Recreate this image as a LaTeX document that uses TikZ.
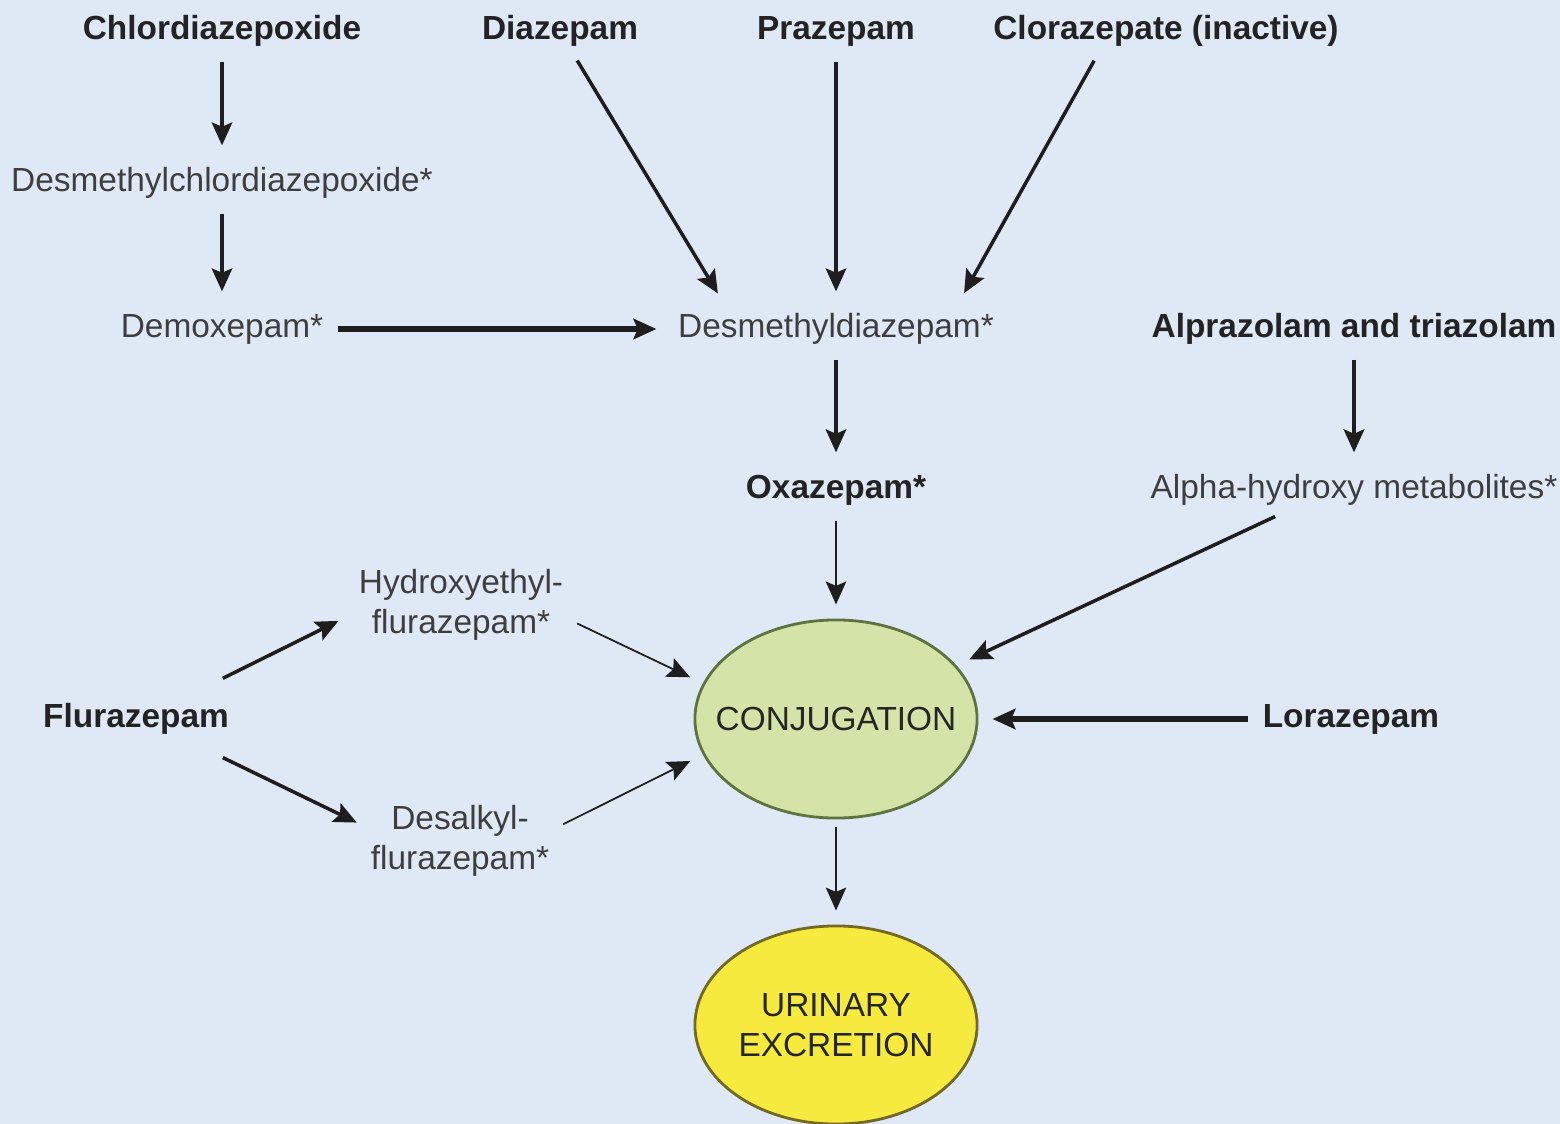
\documentclass[tikz,border=0pt]{standalone}
\usepackage{fontspec}
\setmainfont{Liberation Sans}
\usetikzlibrary{arrows.meta,shapes.geometric}
\definecolor{bgblue}{RGB}{222,233,245}
\definecolor{drugtxt}{RGB}{35,35,35}
\definecolor{metabtxt}{RGB}{62,62,62}
\definecolor{arrowcol}{RGB}{30,30,30}
\definecolor{conjfill}{RGB}{212,228,168}
\definecolor{conjedge}{RGB}{95,115,65}
\definecolor{urinfill}{RGB}{247,234,62}
\definecolor{urinedge}{RGB}{115,105,35}

\begin{document}
\begin{tikzpicture}[
  x=0.01cm, y=-0.01cm,
  every node/.style={font=\fontsize{9.5}{11.2}\selectfont},
  %% Node styles
  drug/.style={
    text=drugtxt, font=\fontsize{9.5}{11.2}\selectfont\bfseries,
    inner sep=2pt, text height=7pt, text depth=2pt,
  },
  metab/.style={
    text=metabtxt, inner sep=2pt, text height=7pt, text depth=2pt,
  },
  metabtwo/.style={text=metabtxt, inner sep=2pt, align=center},
  stage/.style={
    ellipse, line width=0.8pt, inner sep=0pt, text=black!85,
    minimum width=2.82cm, minimum height=1.98cm,
  },
  %% Arrow styles
  arr/.style={
    draw=arrowcol, line width=1pt,
    -{Stealth[length=6.5pt,width=5.8pt,inset=1.2pt]},
    shorten <=2pt, shorten >=4pt,
  },
  thickarr/.style={arr, line width=1.8pt},
  thinarr/.style={arr, line width=0.5pt},
]

%% background and page size
\fill[bgblue] (0,0) rectangle (1560,1124);
\useasboundingbox (0,0) rectangle (1560,1124);

%% =============================================================
%%  Parent drugs (top row)
%% =============================================================
\node[drug] (chlor)  at (222,31)  {Chlordiazepoxide};
\node[drug] (diaz)   at (560,31)  {Diazepam};
\node[drug] (praz)   at (836,31)  {Prazepam};
\node[drug] (cloraz) at (1166,31) {Clorazepate (inactive)};

%% =============================================================
%%  Metabolites
%% =============================================================
\node[metab] (dmcd)  at (222,183)  {Desmethylchlordiazepoxide*};
\node[metab] (demox) at (222,329)  {Demoxepam*};
\node[metab] (dmdz)  at (836,329)  {Desmethyldiazepam*};
\node[drug]  (alpr)  at (1354,329) {Alprazolam and triazolam};

\node[drug]  (oxaz)  at (836,490)  {Oxazepam*};
\node[metab] (ahm)   at (1354,490) {Alpha-hydroxy metabolites*};

\node[metabtwo] (hef) at (461,605) {Hydroxyethyl-\\flurazepam*};
\node[drug]  (fluraz) at (136,719) {Flurazepam};
\node[drug]  (loraz)  at (1351,719) {Lorazepam};
\node[metabtwo] (dsf) at (460,841) {Desalkyl-\\flurazepam*};

%% =============================================================
%%  Conjugation and excretion
%% =============================================================
\node[stage, fill=conjfill, draw=conjedge, inner xsep=-6.5pt]
    (conj) at (836,719) {CONJUGATION};
\node[stage, fill=urinfill, draw=urinedge, align=center]
    (urin) at (836,1025) {URINARY\\EXCRETION};

%% =============================================================
%%  Pathways
%% =============================================================
\draw[arr] (chlor) -- (dmcd);
\draw[arr] (dmcd) -- (demox);
\draw[thickarr] (demox) -- (dmdz);

\draw[arr] (diaz.-60) -- (dmdz.168);
\draw[arr] (praz) -- (dmdz);
\draw[arr] (cloraz.-161) -- (dmdz.11);

\draw[arr] (dmdz) -- (oxaz);
\draw[arr, line width=1.2pt] (alpr) -- (ahm);

\draw[thinarr] (oxaz) -- (conj);
\draw[arr] (ahm.-162) -- (conj.24);
\draw[thickarr] (loraz) -- (conj);

%% flurazepam branches
\draw[arr] ([shift={(-20,-14)}]fluraz.north east) -- (hef.185);
\draw[arr, shorten >=2pt] ([shift={(-20,12)}]fluraz.south east) -- (dsf.171);
\draw[thinarr] (hef.-8) -- (conj.165);
\draw[thinarr] (dsf.8) -- (conj.195);

\draw[thinarr] (conj) -- (urin);

\end{tikzpicture}
\end{document}
